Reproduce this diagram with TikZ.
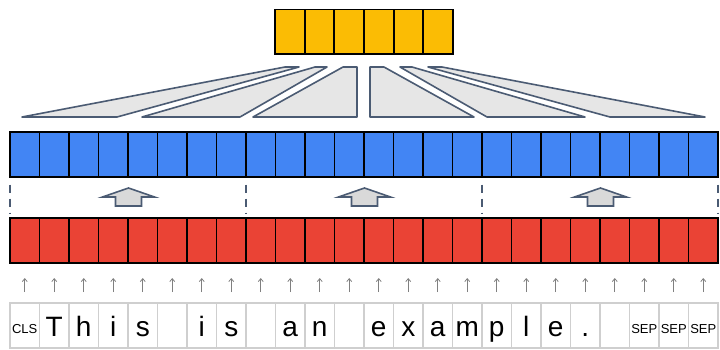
\documentclass[tikz,border=0pt]{standalone}
\usepackage{fontspec}
\setmainfont{Liberation Sans}
\usetikzlibrary{arrows.meta}
\definecolor{gblue}{HTML}{4285F4}
\definecolor{gred}{HTML}{EA4335}
\definecolor{gyellow}{HTML}{FBBC04}
\definecolor{slate}{HTML}{4B5B73}
\definecolor{fanfill}{HTML}{E6E6E6}
\definecolor{blockfill}{HTML}{D9D9D9}
\definecolor{tokline}{HTML}{CFCFCF}
\begin{document}
\begin{tikzpicture}[x=1pt,y=-1pt,
  cell/.style={draw=black, line width=1.9pt, minimum width=29.5pt, minimum height=45pt, inner sep=0pt, outer sep=0pt},
  bluecell/.style={cell, fill=gblue},
  redcell/.style={cell, fill=gred},
  yellowcell/.style={cell, fill=gyellow, minimum width=29.67pt, minimum height=44.5pt},
  tokcell/.style={draw=tokline, line width=1.5pt, minimum width=29.5pt, minimum height=45pt, inner sep=0pt, outer sep=0pt},
  big/.style={font=\fontsize{28}{28}\selectfont, text height=25pt, text depth=4pt},
  tag/.style={font=\fontsize{13}{13}\selectfont, text height=20pt, text depth=5pt},
  fan/.style={draw=slate, fill=fanfill, line width=1.6pt, line join=round},
  block/.style={draw=slate, fill=blockfill, line width=1.6pt, line join=miter},
  feed/.style={draw=gray, line width=0.8pt, -{Straight Barb[length=3pt,width=5pt]}, shorten <=11pt, shorten >=15pt},
  split/.style={draw=slate, line width=1.5pt, dash pattern=on 8pt off 6pt}]
\useasboundingbox (0,0) rectangle (720,349);

% pooled output
\foreach \i in {0,...,5}
  \node[yellowcell] (y\i) at ({275+29.67*(\i+0.5)},31.75) {};

% fan-in wedges
\draw[fan] (22,117) -- (285,67) -- (299,67) -- (117,117) -- cycle;
\draw[fan] (142,117) -- (315,67) -- (327,67) -- (240,117) -- cycle;
\draw[fan] (253,117) -- (343,67) -- (357,67) -- (357,117) -- cycle;
\draw[fan] (370,117) -- (370,67) -- (384,67) -- (474,117) -- cycle;
\draw[fan] (487,117) -- (400,67) -- (412,67) -- (585,117) -- cycle;
\draw[fan] (610,117) -- (428,67) -- (442,67) -- (705,117) -- cycle;

% encoder rows
\foreach \i in {0,...,23} {
  \node[bluecell] (b\i) at ({10+29.5*(\i+0.5)},154.5) {};
  \node[redcell]  (r\i) at ({10+29.5*(\i+0.5)},240.5) {};
}

% segment separators
\foreach \x in {10,246,482,718}
  \draw[split] (\x,184.5) -- (\x,214);

% segment-wise up arrows
\foreach \cx in {128.5,364.5,600.5}
  \draw[block] (\cx,188) -- (\cx+26,197) -- (\cx+13,197) -- (\cx+13,206)
    -- (\cx-13,206) -- (\cx-13,197) -- (\cx-26,197) -- cycle;

% input tokens
\foreach \t/\k [count=\i from 0] in {CLS/tag,T/big,h/big,i/big,s/big,{}/big,i/big,s/big,{}/big,a/big,n/big,{}/big,e/big,x/big,a/big,m/big,p/big,l/big,e/big,./big,{}/big,SEP/tag,SEP/tag,SEP/tag} {
  \node[tokcell,\k] (t\i) at ({10+29.5*(\i+0.5)},325.5) {\t};
  \draw[feed] (t\i.north) -- (r\i.south);
}
\end{tikzpicture}
\end{document}
